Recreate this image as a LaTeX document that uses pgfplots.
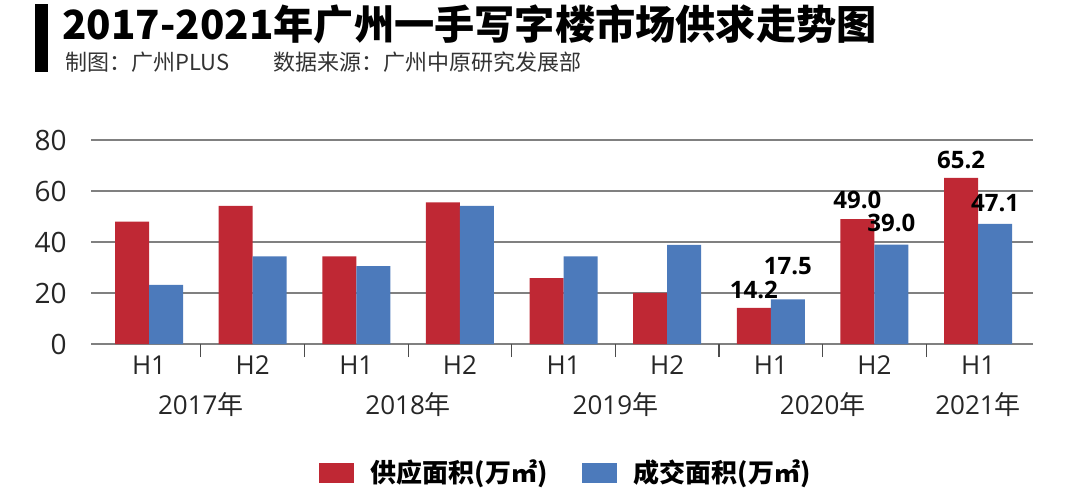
\documentclass[border=0pt]{standalone}
\usepackage{fontspec}
\setmainfont{Open Sans}
\newfontfamily\cjk{Noto Sans CJK SC}
\usepackage{pgfplots}
\usepackage{pgfplotstable}
\pgfplotsset{compat=1.18}
\definecolor{cred}{RGB}{191,40,52}
\definecolor{cblue}{RGB}{76,122,187}
\definecolor{cgrid}{RGB}{128,128,128}
\pgfplotsset{mylegend/.style={legend image code/.code={\fill[##1] (0pt,-5pt) rectangle (17.5pt,5pt); \path (24pt,0pt);}}}

\pgfplotstableread{
x supply deal
0 48.0 23.2
1 54.2 34.4
2 34.4 30.5
3 55.5 54.2
4 25.8 34.4
5 20.1 38.9
6 14.2 17.5
7 49.0 39.0
8 65.2 47.1
}\data
\pgfplotstableread{
x y lab dy
6 14.2 14.2 9
7 49.0 49.0 9.6
8 65.2 65.2 8.9
}\supplab
\pgfplotstableread{
x y lab dy
6 17.5 17.5 16.5
7 39.0 39.0 11
8 47.1 47.1 10.3
}\deallab

\begin{document}
\begin{tikzpicture}
\path[use as bounding box] (0,0) rectangle (540pt,249pt);
\fill[black] (17.5pt,213pt) rectangle (24pt,247pt);
\node[anchor=west, inner sep=0pt] at (31pt,237pt) {\cjk\bfseries\fontsize{20.1pt}{20.1pt}\selectfont 2017-2021年广州一手写字楼市场供求走势图};
\node[anchor=west, inner sep=0pt, text=black!80] at (32.5pt,218pt) {\cjk\fontsize{11pt}{11pt}\selectfont 制图：广州PLUS};
\node[anchor=west, inner sep=0pt, text=black!80] at (136.5pt,218pt) {\cjk\fontsize{11pt}{11pt}\selectfont 数据来源：广州中原研究发展部};
\begin{axis}[
  scale only axis, width=471pt, height=102pt,
  at={(45.5pt,77pt)}, anchor=south west,
  xmin=-0.56, xmax=8.53, ymin=0, ymax=80,
  ytick={0,20,40,60,80},
  xtick={0,...,8},
  xticklabels={H1,H2,H1,H2,H1,H2,H1,H2,H1},
  minor xtick={0.5,1.5,...,7.5},
  tick align=outside,
  major tick length=0pt,
  minor tick length=6.5pt,
  xtick pos=bottom, ytick pos=left,
  axis line style={draw=none},
  ymajorgrids, grid style={cgrid, line width=0.65pt},
  minor tick style={black!70, line width=0.6pt},
  /pgf/number format/assume math mode=true,
  yticklabel style={font=\fontsize{14pt}{14pt}\selectfont, anchor=east, inner sep=0pt, xshift=-12pt, text=black!85},
  xticklabel style={font=\fontsize{13pt}{13pt}\selectfont, anchor=center, yshift=-10.5pt, text=black!85},
  extra x ticks={0.5,2.5,4.5,6.5,8},
  extra x tick labels={2017{\cjk 年},2018{\cjk 年},2019{\cjk 年},2020{\cjk 年},2021{\cjk 年}},
  extra x tick style={major tick length=0pt, grid=none, xticklabel style={yshift=-20pt}},
  legend style={draw=none, fill=none, at={(0.505,-0.632)}, anchor=center, legend columns=2,
    font=\cjk\bfseries\fontsize{13pt}{13pt}\selectfont,
    /tikz/every even column/.append style={column sep=15pt}},
]
\addplot[ybar, bar width=0.328, bar shift=-0.164, fill=cred, draw=none, mylegend] table[x=x,y=supply]{\data};
\addplot[ybar, bar width=0.328, bar shift=0.164, fill=cblue, draw=none, mylegend] table[x=x,y=deal]{\data};
\addplot[ybar, bar width=0.328, bar shift=-0.164, draw=none, fill=none, forget plot,
  point meta=explicit symbolic, nodes near coords,
  visualization depends on={\thisrow{dy}\as\dy},
  nodes near coords style={anchor=center, xshift=-8.5pt, yshift=\dy pt, font=\bfseries\fontsize{12pt}{12pt}\selectfont, text=black}]
  table[x=x, y=y, meta=lab]{\supplab};
\addplot[ybar, bar width=0.328, bar shift=0.164, draw=none, fill=none, forget plot,
  point meta=explicit symbolic, nodes near coords,
  visualization depends on={\thisrow{dy}\as\dy},
  nodes near coords style={anchor=center, xshift=8.5pt, yshift=\dy pt, font=\bfseries\fontsize{12pt}{12pt}\selectfont, text=black}]
  table[x=x, y=y, meta=lab]{\deallab};
\legend{供应面积(万㎡), 成交面积(万㎡)}
\end{axis}
\end{tikzpicture}
\end{document}
